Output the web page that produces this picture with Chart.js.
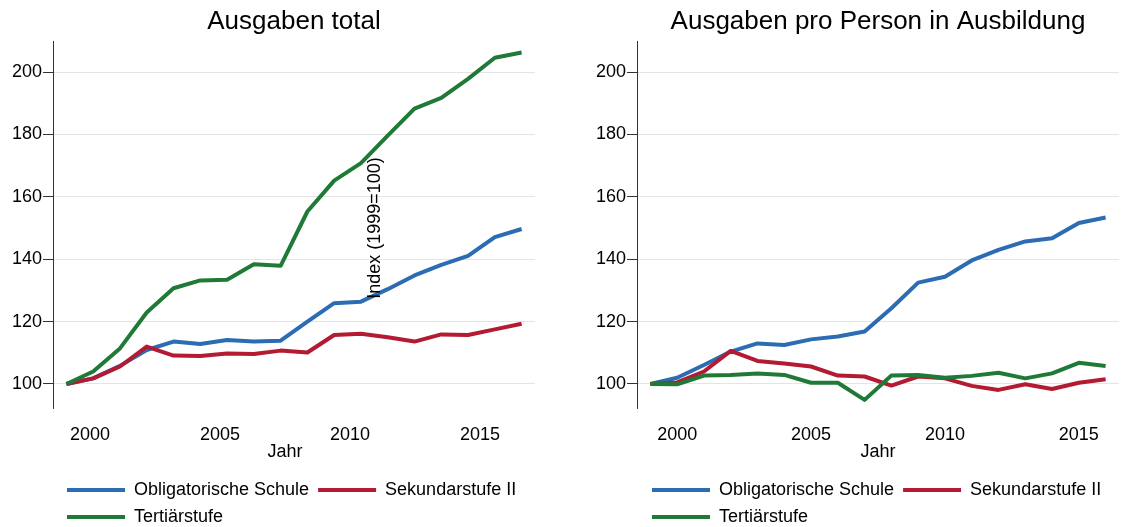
<!DOCTYPE html>
<html>
<head>
<meta charset="utf-8">
<script src="https://cdn.jsdelivr.net/npm/chart.js@4/dist/chart.umd.min.js"></script>
<style>
html,body{margin:0;padding:0;background:#fff;}
#wrap{position:relative;width:1124px;height:527px;overflow:hidden;}
.panel{position:absolute;top:0;width:562px;height:527px;}
canvas{display:block;}
</style>
</head>
<body>
<div id="wrap">
  <div class="panel" style="left:0"><canvas id="c1" width="562" height="527"></canvas></div>
  <div class="panel" style="left:562px"><canvas id="c2" width="562" height="527"></canvas></div>
</div>
<script>
// ---- Data (index 1999 = 100) ----
const years = [1999,2000,2001,2002,2003,2004,2005,2006,2007,2008,2009,2010,2011,2012,2013,2014,2015,2016];

const totalObligatorisch = [100,101.8,105.8,110.9,113.6,112.8,114.1,113.6,113.9,120.0,125.9,126.4,130.4,134.8,138.2,141.1,147.1,149.7];
const totalSekundar      = [100,101.8,105.6,112.0,109.1,109.0,109.8,109.6,110.7,110.1,115.7,116.1,115.0,113.6,115.9,115.7,117.5,119.3];
const totalTertiaer      = [100,104.0,111.4,122.9,130.7,133.2,133.4,138.4,137.9,155.3,165.2,170.8,179.6,188.3,191.7,197.8,204.6,206.3];

const proObligatorisch = [100,102.0,106.1,110.4,113.0,112.5,114.3,115.2,116.8,124.3,132.5,134.4,139.6,143.0,145.7,146.7,151.6,153.4];
const proSekundar      = [100,100.5,104.0,110.6,107.4,106.6,105.6,102.7,102.4,99.5,102.4,101.8,99.4,98.1,99.9,98.4,100.4,101.5];
const proTertiaer      = [100,99.9,102.7,102.9,103.4,102.9,100.4,100.4,94.9,102.7,102.9,102.0,102.6,103.6,101.8,103.4,106.8,105.8];

const seriesNames = ['Obligatorische Schule','Sekundarstufe II','Tertiärstufe'];
const seriesColors = ['#2b6cb3','#b41a31','#207a37'];
const yTicks = [100,120,140,160,180,200];
const xTicks = [2000,2005,2010,2015];
const titles = ['Ausgaben total','Ausgaben pro Person in Ausbildung'];
const xTitle = 'Jahr';
const yTitle = 'Index (1999=100)';

Chart.defaults.font.family = '"Liberation Sans", Arial, sans-serif';
Chart.defaults.color = '#000';

function makeChart(id, title, seriesList, cfg) {
  const datasets = seriesList.map((vals, i) => ({
    label: seriesNames[i],
    data: years.map((yr, k) => ({x: yr, y: vals[k]})),
    xAxisID: 'x',
    yAxisID: 'y',
    borderColor: seriesColors[i],
    backgroundColor: seriesColors[i],
    borderWidth: 4,
    pointRadius: 0,
    tension: 0,
    order: 3 - i,
    borderJoinStyle: 'round'
  }));

  const shiftPlugin = {
    id: 'shift' + id,
    afterLayout(chart) {
      const lg = chart.legend;
      if (lg) {
        lg.left += cfg.legendDx; lg.right += cfg.legendDx;
        lg.top += cfg.legendDy; lg.bottom += cfg.legendDy;
      }
      if (cfg.xlBox) {
        const s = chart.scales.xl;
        s.left = cfg.xlBox[0];
        s.right = cfg.xlBox[1];
        s.width = s.right - s.left;
        s.configure();
        s._labelItems = null;
      }
    },
    afterDraw(chart) {
      if (cfg.indexLabel) {
        const ctx = chart.ctx;
        ctx.save();
        ctx.translate(cfg.indexLabel.x, cfg.indexLabel.y);
        ctx.rotate(-Math.PI / 2);
        ctx.textAlign = 'center';
        ctx.textBaseline = 'middle';
        ctx.font = '18px "Liberation Sans", Arial, sans-serif';
        ctx.fillStyle = '#000';
        ctx.fillText(yTitle, 0, 0);
        ctx.restore();
      }
    }
  };

  return new Chart(document.getElementById(id), {
    type: 'line',
    data: { datasets },
    plugins: [shiftPlugin],
    options: {
      responsive: false,
      animation: false,
      devicePixelRatio: 1,
      layout: { padding: { left: 0, right: cfg.padRight, top: 0, bottom: 0 } },
      plugins: {
        tooltip: { enabled: false },
        title: {
          display: true,
          text: title,
          fullSize: false,
          color: '#000',
          font: { size: 26, weight: 'normal' },
          padding: { top: 6, bottom: 4 }
        },
        legend: {
          display: true,
          position: 'bottom',
          align: 'start',
          fullSize: false,
          labels: {
            boxWidth: 58,
            boxHeight: 4,
            padding: 9,
            color: '#000',
            font: { size: 18 },
            sort: (a, b) => a.datasetIndex - b.datasetIndex,
            generateLabels(chart) {
              const items = Chart.defaults.plugins.legend.labels.generateLabels(chart);
              items.forEach(it => { it.lineWidth = 0; it.fillStyle = it.strokeStyle; });
              return items;
            }
          }
        }
      },
      scales: {
        x: {
          type: 'linear',
          display: false,
          min: 1998.5,
          max: 2016.5
        },
        xl: {
          type: 'linear',
          position: 'bottom',
          min: 1998.5,
          max: 2016.5,
          grid: { display: false, drawTicks: false },
          border: { display: false },
          ticks: { color: '#000', font: { size: 18 }, padding: 16, maxRotation: 0, autoSkip: false,
                   callback: v => String(v) },
          title: { display: true, text: xTitle, color: '#000', font: { size: 18 }, padding: { top: 0, bottom: 0 } },
          afterBuildTicks(s) { s.ticks = xTicks.map(v => ({ value: v })); },
          afterFit(s) { s.height = 55; }
        },
        y: {
          type: 'linear',
          min: 92.3,
          max: 209.9,
          grid: { color: '#e4e4e4', lineWidth: 1, tickColor: '#333', tickLength: 10, drawTicks: true },
          border: { color: '#333', width: 1 },
          ticks: { color: '#000', font: { size: 18 }, padding: 1, callback: v => String(v) },
          afterBuildTicks(s) { s.ticks = yTicks.map(v => ({ value: v })); },
          afterFit(s) { s.width = cfg.yWidth; }
        }
      }
    }
  });
}

makeChart('c1', titles[0], [totalObligatorisch, totalSekundar, totalTertiaer],
  { yWidth: 53, padRight: 27, legendDx: 5, legendDy: 9, indexLabel: { x: 375, y: 228 }, xlBox: [51, 519] });
makeChart('c2', titles[1], [proObligatorisch, proSekundar, proTertiaer],
  { yWidth: 75, padRight: 5, legendDx: 6, legendDy: 9, indexLabel: null, xlBox: null });
</script>
</body>
</html>
